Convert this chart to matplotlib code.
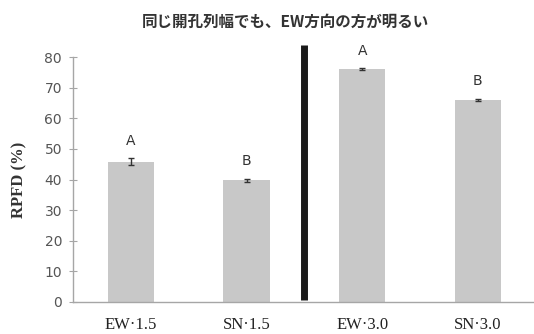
import numpy as np
import matplotlib.pyplot as plt

# RPFD by gap orientation and width
labels = ['EW-1.5', 'SN-1.5', 'EW-3.0', 'SN-3.0']
rpfd = [45.8, 39.8, 76.0, 66.0]
err = [1.1, 0.5, 0.3, 0.3]
groups = ['A', 'B', 'A', 'B']

tick_vals = np.arange(0, 81, 10)
axis_grey = '#a6a6a6'

fig = plt.figure(figsize=(5.34, 3.34), dpi=100)
ax = fig.add_axes([0.137, 0.096, 0.866, 0.733])

x = np.arange(len(labels))
ax.bar(x, rpfd, width=0.4, color='#c8c8c8', zorder=2)
ax.errorbar(x, rpfd, yerr=err, fmt='none', ecolor='#333333', elinewidth=1.0,
            capsize=2.5, capthick=1.0, zorder=3)

# letters for significance groups
for xi, v, e, g in zip(x, rpfd, err, groups):
    ax.text(xi, v + e + 3.5, g, ha='center', va='bottom', fontsize=10,
            color='#333333', family='DejaVu Sans')

# thick divider between the 1.5 m and 3.0 m gaps
ax.plot([1.5, 1.5], [0.6, 84], color='#1a1a1a', lw=5, solid_capstyle='butt',
        clip_on=False, zorder=4)

ax.set_xlim(-0.5, 3.5)
ax.set_ylim(0, 80)
ax.set_xticks(x)
ax.set_xticklabels([l.replace('-', '\u00b7') for l in labels],
                   family='Liberation Serif', fontsize=12, color='#222222')
ax.set_yticks(tick_vals)
ax.tick_params(axis='y', direction='inout', length=6, width=0.8, color=axis_grey,
               labelsize=10, labelcolor='#555555', pad=5)
ax.tick_params(axis='x', length=0, pad=11)

for s in ['top', 'right']:
    ax.spines[s].set_visible(False)
for s in ['left', 'bottom']:
    ax.spines[s].set_color(axis_grey)
    ax.spines[s].set_linewidth(1.0)

ax.set_ylabel('RPFD (%)', family='Liberation Serif', fontweight='bold',
              fontsize=12, color='#333333', labelpad=12)

fig.text(0.535, 0.935, '同じ開孔列幅でも、EW方向の方が明るい',
         ha='center', va='center', fontsize=11.2, fontweight='bold',
         family=['Noto Sans CJK JP', 'DejaVu Sans'], color='#333333')

fig.savefig('out.png', dpi=100)
